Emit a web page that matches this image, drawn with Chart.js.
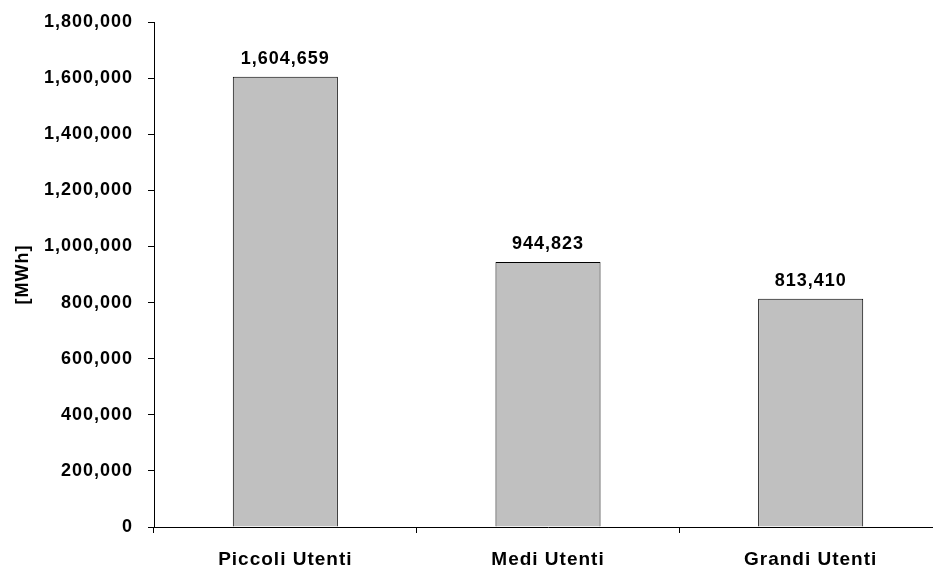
<!DOCTYPE html>
<html>
<head>
<meta charset="utf-8">
<script src="https://cdn.jsdelivr.net/npm/chart.js@4/dist/chart.umd.min.js"></script>
<style>
  html, body { margin: 0; padding: 0; background: #fff; overflow: hidden; }
  #wrap { width: 933px; height: 569px; overflow: hidden; }
  canvas { display: block; }
</style>
</head>
<body>
<div id="wrap"><canvas id="c" width="945" height="569"></canvas></div>
<script>
// Energy consumption by user class
const categories = ['Piccoli Utenti', 'Medi Utenti', 'Grandi Utenti'];
const consumption = [1604659, 944823, 813410];
const axisTitle = '[MWh]';
const yMin = 0, yMax = 1800000, yStep = 200000;

const FONT = '"Liberation Sans", Arial, sans-serif';
const fmt = v => Number(v).toLocaleString('en-US');

// Slightly wider lettering, like the original office-style chart
const spacingPlugin = {
  id: 'spacing',
  beforeDraw(chart) { chart.ctx.letterSpacing = '1px'; }
};

// Value written above each bar
const valueLabels = {
  id: 'valueLabels',
  afterDatasetsDraw(chart) {
    const ctx = chart.ctx;
    const meta = chart.getDatasetMeta(0);
    ctx.save();
    ctx.font = 'bold 18px ' + FONT;
    ctx.fillStyle = '#000';
    ctx.textAlign = 'center';
    ctx.textBaseline = 'alphabetic';
    meta.data.forEach((bar, i) => {
      const v = chart.data.datasets[0].data[i];
      ctx.fillText(fmt(v), bar.x, bar.y - 13);
    });
    ctx.restore();
  }
};

new Chart(document.getElementById('c'), {
  type: 'bar',
  data: {
    labels: categories,
    datasets: [{
      data: consumption,
      backgroundColor: '#c0c0c0',
      borderColor: '#000',
      borderWidth: 1,
      categoryPercentage: 1.0,
      barPercentage: 0.4
    }]
  },
  options: {
    responsive: false,
    animation: false,
    layout: { padding: { top: 22, right: 3, left: 0, bottom: 0 } },
    plugins: { legend: { display: false }, tooltip: { enabled: false } },
    scales: {
      x: {
        grid: { drawOnChartArea: false, drawTicks: true, tickLength: 6, color: '#000', offset: true },
        border: { color: '#000', width: 1 },
        ticks: { color: '#000', font: { family: FONT, size: 19, weight: 'bold' }, padding: 15, maxRotation: 0 },
        afterFit(scale) { scale.height = 42; }
      },
      y: {
        min: yMin,
        max: yMax,
        grid: { drawOnChartArea: false, drawTicks: true, tickLength: 6, color: '#000' },
        border: { color: '#000', width: 1 },
        ticks: {
          stepSize: yStep,
          color: '#000',
          font: { family: FONT, size: 18, weight: 'bold' },
          padding: 15,
          callback: v => fmt(v)
        },
        title: {
          display: true,
          text: axisTitle,
          color: '#000',
          font: { family: FONT, size: 18, weight: 'bold' },
          padding: { top: 12, bottom: 0 }
        },
        afterFit(scale) {
          scale.width = 154;
          scale.paddingTop = 0;
          scale.paddingBottom = 0;
        }
      }
    }
  },
  plugins: [spacingPlugin, valueLabels]
});
</script>
</body>
</html>
